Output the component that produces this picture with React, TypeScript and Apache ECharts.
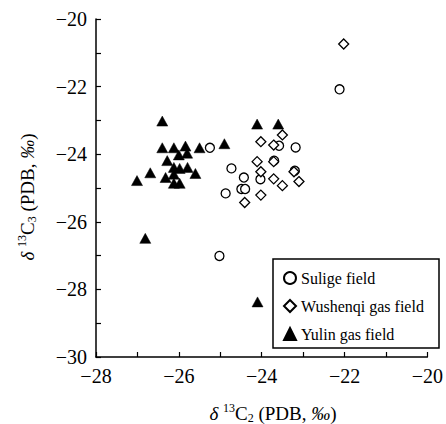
import React, { useEffect, useRef } from "react";
import * as echarts from "echarts";

const seriesNames = ["Sulige field", "Wushenqi gas field", "Yulin gas field"];

const suligeX = [-25.25, -24.73, -24.87, -23.58, -23.18, -23.7, -23.2, -24.43, -24.03, -24.49, -24.4, -22.12, -25.02];
const suligeY = [-23.81, -24.42, -25.16, -23.75, -23.8, -24.19, -24.49, -24.69, -24.74, -25.03, -25.03, -22.08, -27.01];

const wushenqiX = [-23.5, -24.02, -23.71, -24.11, -23.71, -24.02, -23.22, -23.71, -23.5, -23.1, -24.02, -24.41, -22.02];
const wushenqiY = [-23.43, -23.63, -23.73, -24.22, -24.22, -24.52, -24.52, -24.73, -24.93, -24.81, -25.21, -25.43, -20.74];

const yulinX = [-26.4, -26.4, -26.12, -25.84, -25.5, -24.9, -26.0, -25.8, -26.28, -26.12, -25.98, -25.79, -25.6, -26.69, -27.01, -26.32, -26.12, -26.12, -25.98, -24.11, -23.6, -26.81, -24.1];
const yulinY = [-23.02, -23.81, -23.81, -23.76, -23.81, -23.69, -24.02, -23.97, -24.19, -24.39, -24.42, -24.39, -24.57, -24.55, -24.78, -24.69, -24.59, -24.86, -24.86, -23.11, -23.11, -26.49, -28.37];

const xMin = -28, xMax = -20;
const yMin = -30, yMax = -20;

const FONT = "Liberation Serif";

const pairs = (xs: number[], ys: number[]) => xs.map((x, i) => [x, ys[i]]);

const fmt = (v: number) => (v % 2 === 0 ? (v < 0 ? "\u2212" + Math.abs(v) : String(v)) : "");

const titleRich = {
  d: { fontStyle: "italic", fontSize: 19, fontFamily: FONT, fill: "#000", lineHeight: 22 },
  n: { fontSize: 19, fontFamily: FONT, fill: "#000", lineHeight: 22 },
  s: { fontSize: 12, fontFamily: FONT, fill: "#000", verticalAlign: "top", lineHeight: 12 },
  b: { fontSize: 12, fontFamily: FONT, fill: "#000", verticalAlign: "bottom", lineHeight: 12 },
  p: { fontStyle: "italic", fontSize: 19, fontFamily: FONT, fill: "#000", lineHeight: 22 },
};

export default function App() {
  const ref = useRef<HTMLDivElement>(null);
  useEffect(() => {
    if (!ref.current) return;
    const chart = echarts.init(ref.current, undefined, { renderer: "svg" });
    const axisCommon = {
      type: "value" as const,
      interval: 1,
      axisLine: { show: true, onZero: false, lineStyle: { color: "#000", width: 1.5 } },
      axisTick: { show: true, inside: true, length: 5, lineStyle: { color: "#000", width: 1.2 } },
      splitLine: { show: false },
      axisLabel: { formatter: fmt, color: "#000", fontSize: 20, fontFamily: FONT, margin: 9 },
    };
    chart.setOption({
      animation: false,
      backgroundColor: "#fff",
      textStyle: { fontFamily: FONT },
      grid: { left: 96, right: 14, top: 19, bottom: 67 },
      xAxis: { ...axisCommon, min: xMin, max: xMax },
      yAxis: { ...axisCommon, min: yMin, max: yMax },
      legend: {
        orient: "vertical",
        left: 273,
        top: 259,
        padding: [11, 6, 9, 10],
        itemGap: 12,
        itemWidth: 12,
        itemHeight: 12,
        borderWidth: 0,
        textStyle: { color: "#000", fontSize: 16, fontFamily: FONT },
        data: seriesNames,
      },
      series: [
        {
          name: seriesNames[2],
          type: "scatter",
          symbol: "triangle",
          symbolSize: [11, 10],
          itemStyle: { color: "#000", borderColor: "#000", borderWidth: 0.5, opacity: 1 },
          data: pairs(yulinX, yulinY),
          z: 3,
        },
        {
          name: seriesNames[0],
          type: "scatter",
          symbol: "circle",
          symbolSize: 9,
          itemStyle: { color: "#fff", borderColor: "#000", borderWidth: 1.3, opacity: 1 },
          data: pairs(suligeX, suligeY),
          z: 4,
        },
        {
          name: seriesNames[1],
          type: "scatter",
          symbol: "diamond",
          symbolSize: 10,
          itemStyle: { color: "#fff", borderColor: "#000", borderWidth: 1.3, opacity: 1 },
          data: pairs(wushenqiX, wushenqiY),
          z: 5,
        },
      ],
      graphic: [
        {
          type: "rect",
          z: 1,
          shape: { x: 273, y: 259, width: 166, height: 89 },
          style: { fill: "none", stroke: "#000", lineWidth: 1.5 },
        },
        {
          type: "text",
          x: 273,
          y: 413,
          style: {
            text: "{d|δ} {s|13}{n|C}{b|2}{n| (PDB, }{p|‰}{n|)}",
            rich: titleRich,
            fontFamily: FONT,
            fontSize: 19,
            fill: "#000",
            align: "center",
            verticalAlign: "middle",
          },
        },
        {
          type: "text",
          x: 27,
          y: 197,
          rotation: Math.PI / 2,
          style: {
            text: "{d|δ} {s|13}{n|C}{b|3}{n| (PDB, }{p|‰}{n|)}",
            rich: titleRich,
            fontFamily: FONT,
            fontSize: 19,
            fill: "#000",
            align: "center",
            verticalAlign: "middle",
          },
        },
      ],
    });
    return () => chart.dispose();
  }, []);
  return (
    <div
      ref={ref}
      style={{ position: "fixed", left: 0, top: 0, width: 446, height: 424 }}
    />
  );
}
